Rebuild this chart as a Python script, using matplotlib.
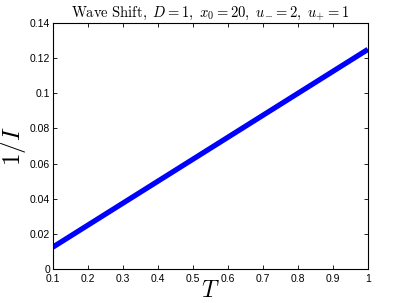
import matplotlib
matplotlib.use('Agg')
import matplotlib.pyplot as plt

plt.rcParams['mathtext.fontset'] = 'cm'
plt.rcParams['font.family'] = 'Liberation Sans'

T = [0.1, 0.2, 0.3, 0.4, 0.5, 0.6, 0.7, 0.8, 0.9, 1.0]
inv_I = [0.0125, 0.025, 0.0375, 0.05, 0.0625, 0.075, 0.0875, 0.1, 0.1125, 0.125]
xticks = [0.1, 0.2, 0.3, 0.4, 0.5, 0.6, 0.7, 0.8, 0.9, 1]
yticks = [0, 0.02, 0.04, 0.06, 0.08, 0.1, 0.12, 0.14]

fig = plt.figure(figsize=(4.07, 3.03), dpi=100)
ax = fig.add_axes([0.130, 0.112, 0.774, 0.812])
ax.plot(T, inv_I, color='#0000ff', lw=3.8, solid_capstyle='butt')

ax.set_xlim(0.1, 1.0)
ax.set_ylim(0, 0.14)
ax.set_xticks(xticks)
ax.set_xticklabels(['0.1', '0.2', '0.3', '0.4', '0.5', '0.6', '0.7', '0.8', '0.9', '1'])
ax.set_yticks(yticks)
ax.set_yticklabels(['0', '0.02', '0.04', '0.06', '0.08', '0.1', '0.12', '0.14'])
ax.tick_params(direction='in', top=True, right=True, labelsize=7.5, length=3, width=0.6, pad=2)
ax.tick_params(axis='x', pad=3.5)
for s in ax.spines.values():
    s.set_linewidth(0.8)

ax.set_xlabel('$T$', fontsize=17, labelpad=-3)
ax.set_ylabel('$1/I$', fontsize=18, labelpad=1)
ax.set_title(r'$\mathrm{Wave\ Shift,}\ D=1,\ x_0=20,\ u_{-}=2,\ u_{+}=1$', fontsize=10.5, pad=4)

fig.savefig('out.png', dpi=100)
